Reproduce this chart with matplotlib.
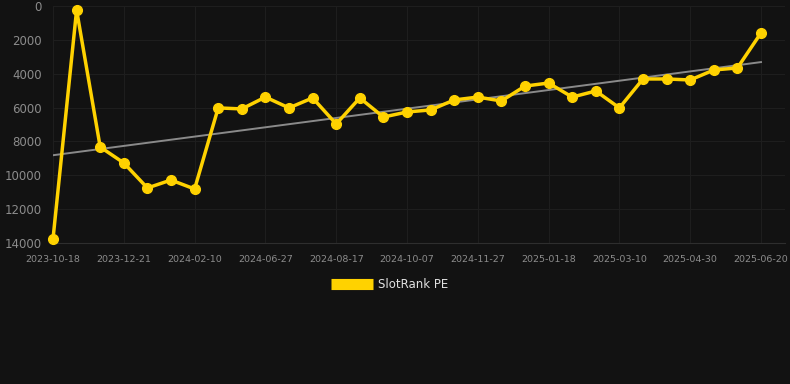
import numpy as np
import matplotlib.pyplot as plt

# data (rank positions, lower is better)
dates = ['2023-10-18', '2023-11-08', '2023-11-29', '2023-12-21', '2024-01-07',
         '2024-01-24', '2024-02-10', '2024-03-15', '2024-05-20', '2024-06-27',
         '2024-07-14', '2024-07-31', '2024-08-17', '2024-09-03', '2024-09-20',
         '2024-10-07', '2024-10-24', '2024-11-10', '2024-11-27', '2024-12-14',
         '2024-12-31', '2025-01-18', '2025-02-04', '2025-02-21', '2025-03-10',
         '2025-03-27', '2025-04-13', '2025-04-30', '2025-05-17', '2025-06-03',
         '2025-06-20']
rank = [13760, 240, 8330, 9270, 10750, 10280, 10810, 6020, 6080, 5380,
        6020, 5430, 6970, 5430, 6560, 6260, 6140, 5550, 5380, 5610,
        4730, 4550, 5380, 5020, 6020, 4310, 4310, 4370, 3780, 3660, 1590]
y_ticks = [0, 2000, 4000, 6000, 8000, 10000, 12000, 14000]

bg = '#121212'
yellow = '#ffd200'

fig = plt.figure(figsize=(7.9, 3.84), dpi=100, facecolor=bg)
ax = fig.add_axes([53 / 790, 1 - 243 / 384, 732 / 790, 237 / 384], facecolor=bg)

x = np.arange(len(rank))
ax.plot(x, rank, color=yellow, lw=2.5, marker='o', ms=7, zorder=3,
        label='SlotRank PE', clip_on=False)

# linear trend
k, b = np.polyfit(x, rank, 1)
ax.plot(x, k * x + b, color='#8a8a8a', lw=1.4, zorder=2)

ax.set_ylim(14000, 0)
ax.set_xlim(0, (785 - 53) / ((761 - 53) / 30))
ax.set_yticks(y_ticks)
ax.set_yticklabels([str(v) for v in y_ticks], fontsize=8.5, color='#8c8c8c')
ax.set_xticks(x[::3])
ax.set_xticklabels(dates[::3], fontsize=6.8, color='#8c8c8c')
ax.tick_params(length=0)
ax.tick_params(axis='y', pad=8)
ax.tick_params(axis='x', pad=9)
ax.grid(True, color='#1e1e1e', lw=0.8)
for s in ax.spines.values():
    s.set_visible(False)
ax.spines['bottom'].set_visible(True)
ax.spines['bottom'].set_color('#2e2e2e')
ax.spines['bottom'].set_linewidth(0.8)

leg = fig.legend(loc='center', bbox_to_anchor=(390 / 790, 1 - 285 / 384),
                 frameon=False, fontsize=8.5, handlelength=3.5,
                 handleheight=0.9, handletextpad=0.5)
for h in leg.legend_handles:
    h.set_marker('')
    h.set_linewidth(8)
    h.set_solid_capstyle('butt')
for t in leg.get_texts():
    t.set_color('#e0e0e0')

plt.savefig('out.png', dpi=100, facecolor=bg)
